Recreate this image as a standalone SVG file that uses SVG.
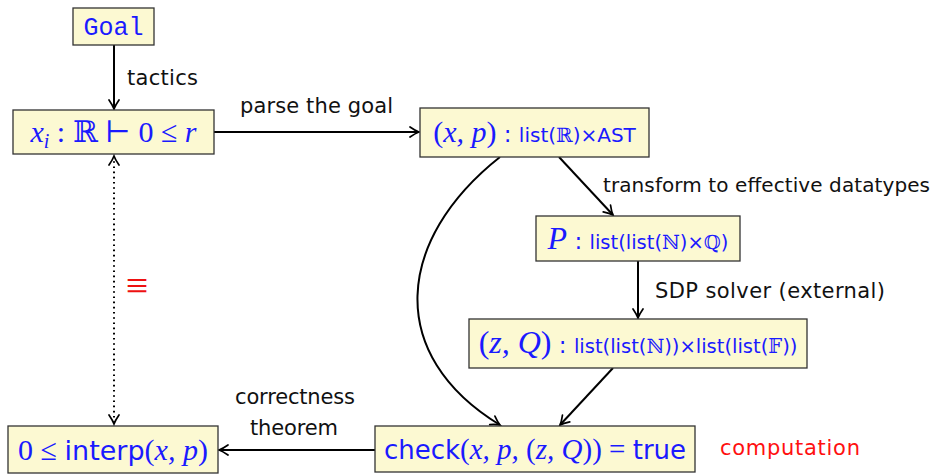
<svg xmlns="http://www.w3.org/2000/svg" width="933" height="474" viewBox="0 0 933 474">
<style>
.box{fill:#fcf9d2;stroke:#333;stroke-width:1.3}
.lbl{font-family:"DejaVu Sans",sans-serif;font-size:21px;fill:#111}
.blue{fill:#1a1aff}
.m{font-family:"Liberation Serif","DejaVu Serif",serif;font-style:italic}
.r{font-family:"Liberation Serif","DejaVu Serif",serif;font-style:normal}
.s{font-family:"DejaVu Sans",sans-serif;font-style:normal}
.e{stroke:#000;stroke-width:2;fill:none}
</style>
<defs>
<marker id="ah" viewBox="-11 -7 13 14" refX="0" refY="0" markerWidth="13" markerHeight="14" markerUnits="userSpaceOnUse" orient="auto-start-reverse">
<path d="M-9,-5 Q-3.5,-1.2 0,0 Q-3.5,1.2 -9,5" fill="none" stroke="#000" stroke-width="1.7" stroke-linecap="round"/>
</marker>
</defs>
<g id="connectors">
<line class="e" x1="114" y1="45" x2="114" y2="109" marker-end="url(#ah)"/>
<line class="e" x1="214" y1="132" x2="419" y2="132" marker-end="url(#ah)"/>
<line class="e" x1="559" y1="157" x2="613" y2="215" marker-end="url(#ah)"/>
<line class="e" x1="638" y1="261" x2="638" y2="318" marker-end="url(#ah)"/>
<line class="e" x1="613" y1="368" x2="560" y2="425" marker-end="url(#ah)"/>
<path class="e" d="M500,157 C395,240 385,355 500,425" marker-end="url(#ah)"/>
<line class="e" x1="375" y1="450" x2="219" y2="450" marker-end="url(#ah)"/>
<line class="e" x1="114" y1="156" x2="114" y2="424" stroke-dasharray="1.6,3.6" marker-start="url(#ah)" marker-end="url(#ah)"/>
<text class="lbl" x="127" y="85" textLength="71" lengthAdjust="spacing">tactics</text>
<text class="lbl" x="240" y="113" textLength="153" lengthAdjust="spacing">parse the goal</text>
<text class="lbl" x="603" y="192" style="font-size:20px" textLength="327" lengthAdjust="spacing">transform to effective datatypes</text>
<text class="lbl" x="655" y="298" textLength="230" lengthAdjust="spacing">SDP solver (external)</text>
<text class="lbl" x="235" y="404" textLength="120" lengthAdjust="spacing">correctness</text>
<text class="lbl" x="250" y="435" textLength="88" lengthAdjust="spacing">theorem</text>
<text x="137" y="299" text-anchor="middle" font-family="Liberation Serif,DejaVu Serif,serif" font-size="40" fill="#ee1111">≡</text>
<text class="lbl" x="720" y="455" style="fill:#ff1010" textLength="140" lengthAdjust="spacing">computation</text>
</g>
<g id="goal">
<rect class="box" x="73" y="8" width="81" height="37"/>
<text x="113.5" y="35" text-anchor="middle" font-family="Liberation Mono,monospace" font-size="25" class="blue">Goal</text>
</g>
<g id="hyp">
<rect class="box" x="13" y="110" width="201" height="44"/>
<text x="113.5" y="142" text-anchor="middle" font-size="30" class="blue m">x<tspan font-size="20" dy="6">i</tspan><tspan class="r" dy="-6"> : ℝ  ⊢ 0 ≤ </tspan>r</text>
</g>
<g id="xp">
<rect class="box" x="420" y="108" width="229" height="49"/>
<text x="534.5" y="142" text-anchor="middle" font-size="30" class="blue m"><tspan class="r">(</tspan>x, p<tspan class="r">)</tspan><tspan class="s" font-size="23"> : </tspan><tspan class="s" font-size="20">list(<tspan class="r">ℝ</tspan>)×AST</tspan></text>
</g>
<g id="P">
<rect class="box" x="536" y="216" width="204" height="45"/>
<text x="638" y="249" text-anchor="middle" font-size="32" class="blue m">P<tspan class="s" font-size="23"> : </tspan><tspan class="s" font-size="19.5">list(list(<tspan class="r">ℕ</tspan>)×<tspan class="r">ℚ</tspan>)</tspan></text>
</g>
<g id="zQ">
<rect class="box" x="469" y="319" width="338" height="49"/>
<text x="638" y="353" text-anchor="middle" font-size="32" class="blue m"><tspan class="r">(</tspan>z, Q<tspan class="r">)</tspan><tspan class="s" font-size="23"> : </tspan><tspan class="s" font-size="19.5">list(list(<tspan class="r">ℕ</tspan>))×list(list(<tspan class="r">𝔽</tspan>))</tspan></text>
</g>
<g id="check">
<rect class="box" x="375" y="426" width="320" height="46"/>
<text x="535" y="459" text-anchor="middle" font-size="26" class="blue s">check<tspan class="m" font-size="29"><tspan class="r">(</tspan>x, p, <tspan class="r">(</tspan>z, Q<tspan class="r">)) = </tspan></tspan>true</text>
</g>
<g id="interp">
<rect class="box" x="8" y="426" width="210" height="47"/>
<text x="113" y="460" text-anchor="middle" font-size="30" class="blue r">0 ≤ <tspan class="s" font-size="27">interp</tspan>(<tspan class="m">x, p</tspan>)</text>
</g>
</svg>
